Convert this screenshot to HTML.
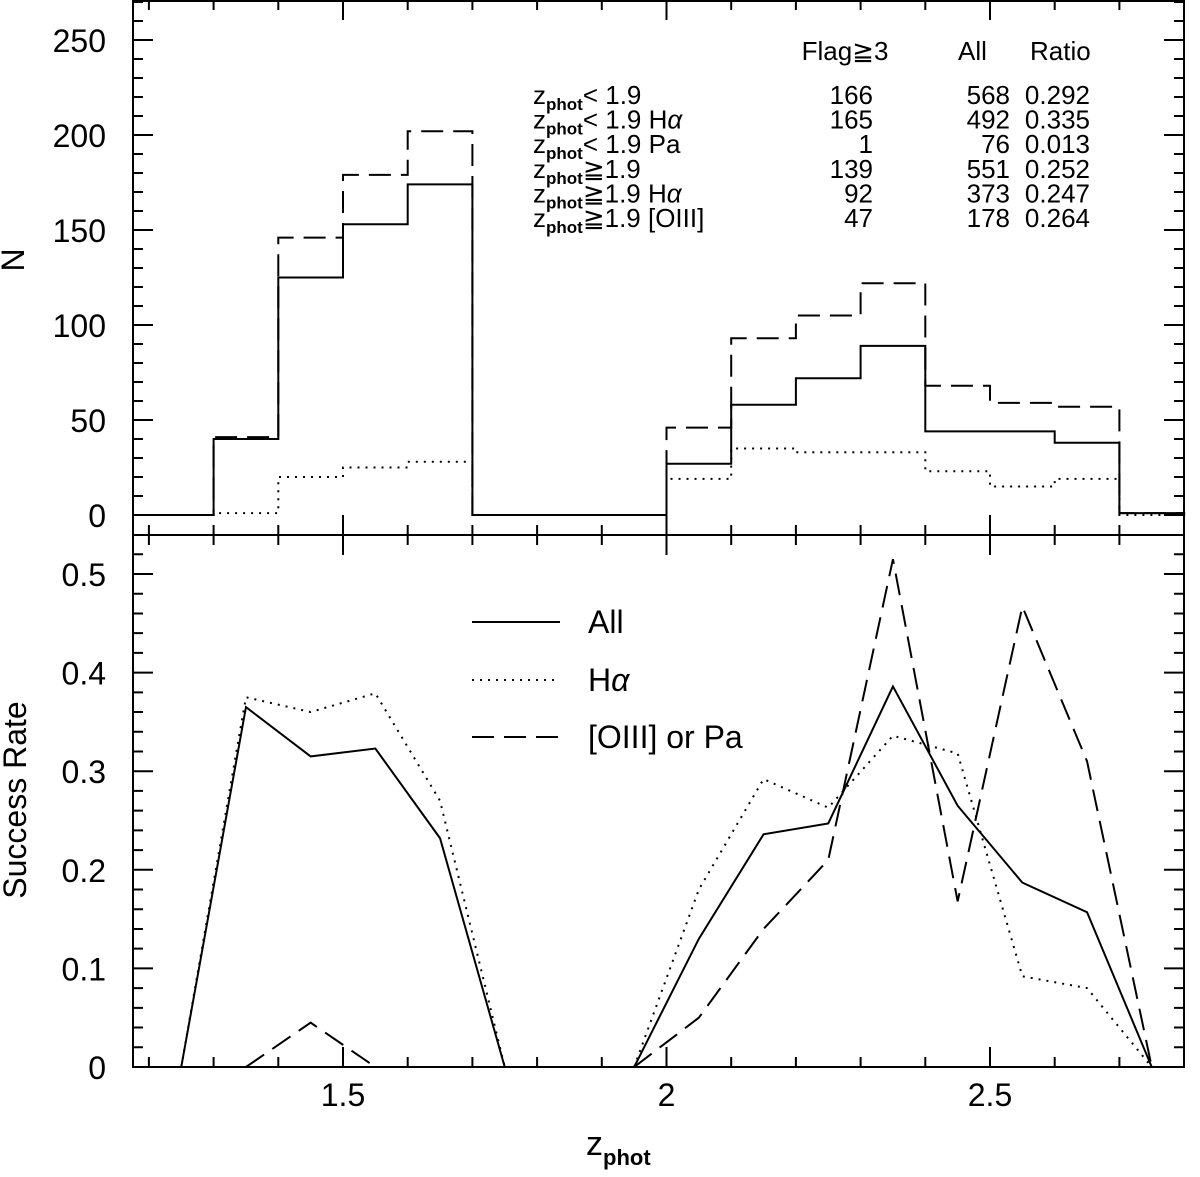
<!DOCTYPE html>
<html><head><meta charset="utf-8"><style>
body{margin:0;background:#fff}
svg{display:block}
text{font-family:"Liberation Sans",sans-serif;fill:#000}
</style></head><body>
<svg id="c" width="1200" height="1177" xmlns="http://www.w3.org/2000/svg">
<g id="top"></g>
<g id="bot"></g>
<g id="tbl" font-size="26">
<text x="845" y="60" text-anchor="middle">Flag≧3</text>
<text x="958" y="60">All</text>
<text x="1030" y="60">Ratio</text>
</g>
<g font-size="32">
<line x1="472" y1="622" x2="560" y2="622" stroke="#000" stroke-width="2"/>
<text x="588" y="622" dy="11">All</text>
<line x1="472" y1="680" x2="560" y2="680" stroke="#000" stroke-width="2" stroke-dasharray="2,6"/>
<text x="588" y="680" dy="11">H<tspan font-style="italic">α</tspan></text>
<line x1="472" y1="737" x2="560" y2="737" stroke="#000" stroke-width="2" stroke-dasharray="22,10"/>
<text x="588" y="737" dy="11">[OIII] or Pa</text>
</g>
<text x="586" y="1155" font-size="34">z<tspan font-size="22" font-weight="bold" dy="10">phot</tspan></text>
<text transform="translate(24,260) rotate(-90)" font-size="32" text-anchor="middle">N</text>
<text transform="translate(26,800) rotate(-90)" font-size="32" text-anchor="middle">Success Rate</text>
</svg>
<script>
const binEdges=[1.3,1.4,1.5,1.6,1.7,1.8,1.9,2.0,2.1,2.2,2.3,2.4,2.5,2.6,2.7];
const histAll=[40,125,153,174,0,0,0,27,58,72,89,44,44,38,1];
const histTotal=[41,146,179,202,0,0,0,46,93,105,122,68,59,57,1];
const histHa=[1,20,25,28,0,0,0,19,35,33,33,23,15,19,0];
const rateX1=[1.25,1.35,1.45,1.55,1.65,1.75];
const rateX2=[1.95,2.05,2.15,2.25,2.35,2.45,2.55,2.65,2.75];
const rateAll1=[0,0.365,0.315,0.323,0.232,0];
const rateAll2=[0,0.13,0.236,0.247,0.386,0.265,0.187,0.157,0];
const rateHa1=[0,0.375,0.36,0.379,0.27,0];
const rateHa2=[0,0.18,0.292,0.263,0.336,0.318,0.092,0.08,0];
const rateO1x=[1.35,1.45,1.55];
const rateO1=[0,0.045,0];
const rateO2=[0,0.05,0.14,0.21,0.515,0.168,0.467,0.31,0];
const tblLabels=["< 1.9","< 1.9 Hα","< 1.9 Pa","≧1.9","≧1.9 Hα","≧1.9 [OIII]"];
const tblFlag=["166","165","1","139","92","47"];
const tblAll=["568","492","76","551","373","178"];
const tblRatio=["0.292","0.335","0.013","0.252","0.247","0.264"];
const topTicks=[0,50,100,150,200,250];
const botTicks=[0,0.1,0.2,0.3,0.4,0.5];
const xTicks=[1.5,2,2.5];

const NS="http://www.w3.org/2000/svg";
const L=133,R=1184,T=0,M=535,B=1067;
const X=z=>343+(z-1.5)*647;
const YT=v=>515-v*1.9;
const YB=v=>1067-v*986;
function mk(p,tag,at){const e=document.createElementNS(NS,tag);for(const k in at)e.setAttribute(k,at[k]);p.appendChild(e);return e;}
const topG=document.getElementById('top'),botG=document.getElementById('bot'),svgEl=document.getElementById('c');
const f=mk(svgEl,'path',{d:`M${L},${T+1}H${R}V${B}H${L}Z M${L},${M}H${R}`,fill:'none',stroke:'#000','stroke-width':2});


let td='';
for(let i=12;i<=28;i++){const z=i/10,x=X(z);if(x<L||x>R)continue;const big=(i%5==0)?20:10;
 td+=`M${x},${B}v${-big}M${x},${M}v${-big}M${x},${M}v${big}M${x},${T}v${big}`;}
for(let v=0;v<=270;v+=10){const y=YT(v);if(y<T)continue;const len=v%50==0?20:10;td+=`M${L},${y}h${len}M${R},${y}h${-len}`;}
for(let v=0;v<=54;v+=2){const y=YB(v/100);if(y<M)continue;const len=v%10==0?20:10;td+=`M${L},${y}h${len}M${R},${y}h${-len}`;}
const tk=mk(svgEl,'path',{d:td,stroke:'#000','stroke-width':2,fill:'none'});


xTicks.forEach(z=>{const t=mk(svgEl,'text',{x:X(z),y:1106,'text-anchor':'middle','font-size':32});t.textContent=String(z);
 
 });
topTicks.forEach(v=>{const t=mk(topG,'text',{x:106,y:YT(v)+12,'text-anchor':'end','font-size':32});t.textContent=v;
 
 });
botTicks.forEach(v=>{const t=mk(botG,'text',{x:106,y:YB(v)+12,'text-anchor':'end','font-size':32});t.textContent=v===0?'0':String(v);
 
 });
function hist(vals,dash,name){let d=`M${L},${YT(0)}H${X(binEdges[0])}`;
 vals.forEach((v,i)=>{d+=`V${YT(v)}H${X(binEdges[i]+0.1)}`;});d+=`V${YT(0)}H${R}`;
 const p=mk(topG,'path',{d,fill:'none',stroke:'#000','stroke-width':2,'stroke-dasharray':dash});
 
 }
hist(histTotal,'22,10','hist-all-dashed');
hist(histHa,'2,6','hist-ha-dotted');
hist(histAll,'none','hist-flag-solid');
function line(xs,ys,dash,name){const d=xs.map((z,i)=>(i?'L':'M')+X(z)+','+YB(ys[i])).join('');
 const p=mk(botG,'path',{d,fill:'none',stroke:'#000','stroke-width':2,'stroke-dasharray':dash});
 
 }
line(rateX1,rateAll1,'none','rate-all-low');line(rateX2,rateAll2,'none','rate-all-high');
line(rateX1,rateHa1,'2,6','rate-ha-low');line(rateX2,rateHa2,'2,6','rate-ha-high');
line(rateO1x,rateO1,'22,10','rate-oiii-low');line(rateX2,rateO2,'22,10','rate-oiii-high');
const tbl=document.getElementById('tbl');
tblLabels.forEach((lab,i)=>{const y=104+i*24.6;
 const t=mk(tbl,'text',{x:533,y});t.innerHTML=`z<tspan font-size="17" font-weight="bold" dy="6">phot</tspan><tspan dy="-6">${lab.replace('α','<tspan font-style="italic">α</tspan>')}</tspan>`;
 
 
 const a=mk(tbl,'text',{x:873,y,'text-anchor':'end'});a.textContent=tblFlag[i];
 
 
 const b=mk(tbl,'text',{x:1010,y,'text-anchor':'end'});b.textContent=tblAll[i];
 
 
 const c=mk(tbl,'text',{x:1090,y,'text-anchor':'end'});c.textContent=tblRatio[i];
 
 
});
</script>
</body></html>
